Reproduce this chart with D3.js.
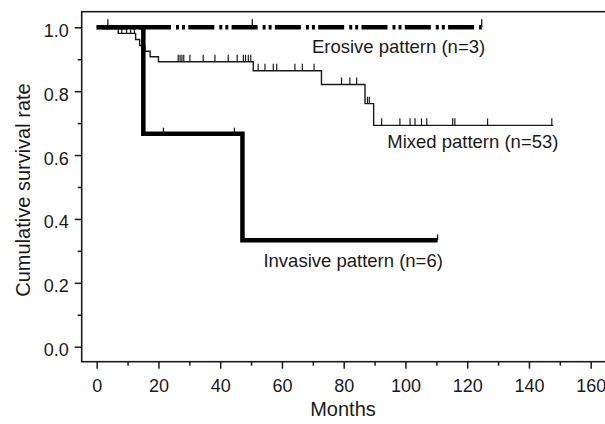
<!DOCTYPE html>
<html>
<head>
<meta charset="utf-8">
<script src="https://cdn.jsdelivr.net/npm/d3@7"></script>
<style>
  html, body { margin: 0; padding: 0; background: #fff; }
  svg { display: block; }
  text { font-family: "Liberation Sans", Arial, Helvetica, sans-serif; fill: #1a1a1a; }
</style>
</head>
<body>
<svg id="chart" width="605" height="424"></svg>
<script>
// ---- data (months, cumulative survival) ----
const xTicks = [0, 20, 40, 60, 80, 100, 120, 140, 160];
const xMinorTicks = [10, 30, 50, 70, 90, 110, 130, 150];
const yTicks = [0.0, 0.2, 0.4, 0.6, 0.8, 1.0];
const yMinorTicks = [0.1, 0.3, 0.5, 0.7, 0.9];

// Erosive pattern (n=3): no events
const erosiveSteps = [[0, 1.0], [124.7, 1.0]];
const erosiveCensors = [3.6, 50.4, 124.7];

// Invasive pattern (n=6)
const invasiveSteps = [[0, 1.0], [15.1, 0.667], [47.2, 0.333], [110.4, 0.333]];
const invasiveCensors = [21.6, 44.6, 110.4];

// Mixed pattern (n=53)
const mixedSteps = [
  [0, 1.0], [7.0, 0.981], [12.6, 0.962], [13.9, 0.943], [15.6, 0.925],
  [17.3, 0.908], [20.0, 0.892], [50.7, 0.864], [72.8, 0.821],
  [86.9, 0.761], [89.7, 0.693], [147.9, 0.693]
];
const mixedCensors = [
  8.1, 9.7, 11.0, 12.2,
  26.4, 27.0, 27.6, 28.2, 30.2, 34.5, 38.3, 42.6, 45.5, 47.5, 48.2, 49.1, 49.9,
  52.3, 54.5, 57.2, 58.3, 64.2, 66.6, 70.4,
  79.3, 82.0, 84.2,
  87.7, 88.3,
  92.3, 98.2, 101.5, 103.1, 105.2, 106.9, 115.3, 116.0, 126.6, 147.4
];

const labels = [
  { text: "Erosive pattern (n=3)", t: 69.7, s: 0.920 },
  { text: "Mixed pattern (n=53)", t: 94.1, s: 0.621 },
  { text: "Invasive pattern (n=6)", t: 54.0, s: 0.250 }
];

// ---- layout ----
const svg = d3.select("#chart");
const x = d3.scaleLinear().domain([0, 160]).range([96.7, 590.7]);
const y = d3.scaleLinear().domain([0, 1]).range([346.7, 27.3]);
const frame = { left: 81.7, top: 11.7, bottom: 361.7, right: 606 };
const ink = "#1a1a1a";

// frame
svg.append("rect")
  .attr("x", frame.left).attr("y", frame.top)
  .attr("width", frame.right - frame.left).attr("height", frame.bottom - frame.top)
  .attr("fill", "none").attr("stroke", ink).attr("stroke-width", 1.6);

// x axis
const gx = svg.append("g").attr("transform", `translate(0,${frame.bottom})`);
gx.call(d3.axisBottom(x).tickValues(xTicks).tickSize(7).tickPadding(11).tickFormat(d3.format("d")));
gx.append("g").call(d3.axisBottom(x).tickValues(xMinorTicks).tickSize(4).tickFormat(""));
gx.selectAll(".domain").remove();
gx.selectAll("line").attr("stroke", ink).attr("stroke-width", 1.5);
gx.selectAll("text").style("font-size", "18px").attr("fill", ink);

// y axis
const gy = svg.append("g").attr("transform", `translate(${frame.left},0)`);
gy.call(d3.axisLeft(y).tickValues(yTicks).tickSize(7).tickPadding(6).tickFormat(d3.format(".1f")));
gy.append("g").call(d3.axisLeft(y).tickValues(yMinorTicks).tickSize(4).tickFormat(""));
gy.selectAll(".domain").remove();
gy.selectAll("line").attr("stroke", ink).attr("stroke-width", 1.5);
gy.selectAll("text").style("font-size", "18px").attr("fill", ink).attr("dy", "0.5em");

// axis titles
svg.append("text").attr("x", 343).attr("y", 416).attr("text-anchor", "middle")
  .style("font-size", "20px").text("Months");
svg.append("text").attr("transform", "translate(30,190) rotate(-90)").attr("text-anchor", "middle")
  .style("font-size", "20px").text("Cumulative survival rate");

// ---- survival curves ----
const line = d3.line().x(d => x(d[0])).y(d => y(d[1])).curve(d3.curveStepAfter);
function survAt(steps, t) {
  let s = steps[0][1];
  for (const [tt, ss] of steps) { if (tt <= t) s = ss; }
  return s;
}
function censors(steps, times, len, width) {
  svg.append("g").selectAll("line").data(times).join("line")
    .attr("x1", d => x(d)).attr("x2", d => x(d))
    .attr("y1", d => y(survAt(steps, d))).attr("y2", d => y(survAt(steps, d)) - len)
    .attr("stroke", ink).attr("stroke-width", width);
}

// Mixed (thin)
svg.append("path").datum(mixedSteps).attr("d", line)
  .attr("fill", "none").attr("stroke", ink).attr("stroke-width", 1.4);
censors(mixedSteps, mixedCensors, 7, 1.2);

// Erosive (thick dash-dot-dot)
svg.append("path").datum(erosiveSteps).attr("d", line)
  .attr("fill", "none").attr("stroke", "#000").attr("stroke-width", 4.5)
  .attr("stroke-dasharray", "26,5,3,3,3,3.3").attr("stroke-dashoffset", 38.3);
censors(erosiveSteps, erosiveCensors, 8, 1.3);

// Invasive (thick solid)
svg.append("path").datum(invasiveSteps).attr("d", line)
  .attr("fill", "none").attr("stroke", "#000").attr("stroke-width", 4.5);
censors(invasiveSteps, invasiveCensors, 6, 1.3);

// labels
svg.append("g").selectAll("text").data(labels).join("text")
  .attr("x", d => x(d.t)).attr("y", d => y(d.s))
  .style("font-size", "18.5px").text(d => d.text);
</script>
</body>
</html>
